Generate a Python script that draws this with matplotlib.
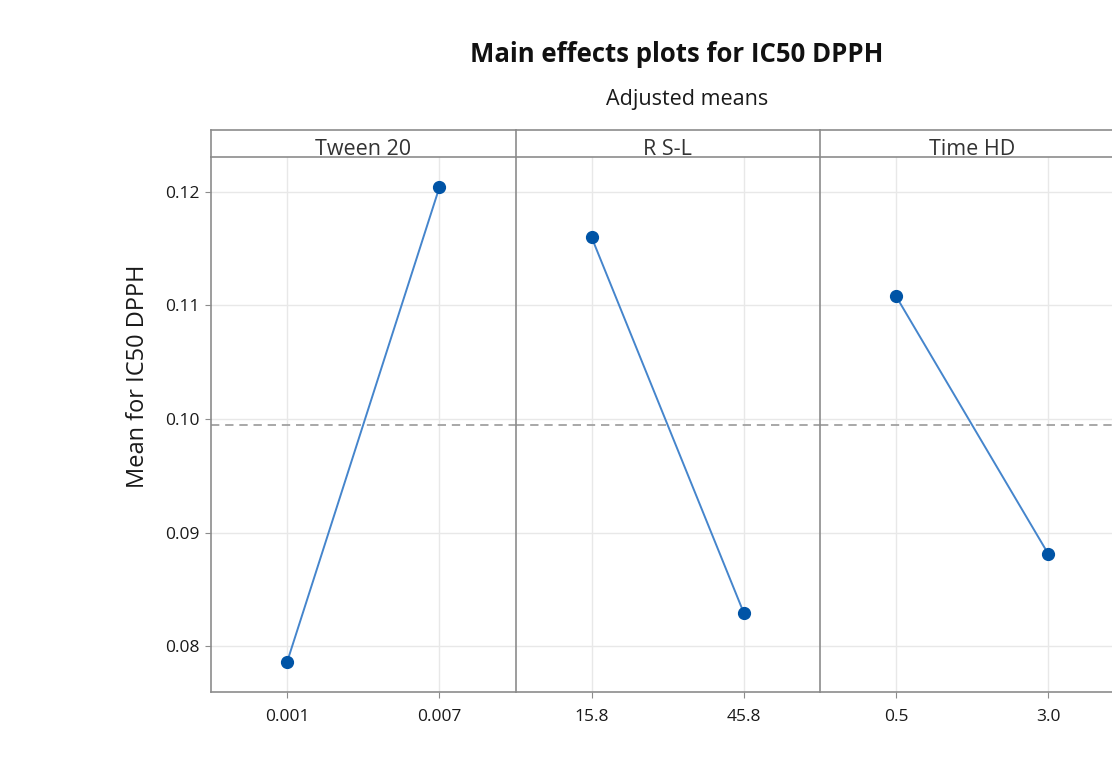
import matplotlib
matplotlib.use("Agg")
import matplotlib.pyplot as plt

plt.rcParams['font.family'] = ['Open Sans', 'DejaVu Sans']

factors = ["Tween 20", "R S-L", "Time HD"]
levels = [["0.001", "0.007"], ["15.8", "45.8"], ["0.5", "3.0"]]
means = [[0.0786, 0.1204], [0.1160, 0.0829], [0.1108, 0.0881]]
grand_mean = 0.0995
yticks = [0.08, 0.09, 0.10, 0.11, 0.12]
ytick_labels = ["0.08", "0.09", "0.10", "0.11", "0.12"]

W, H = 1112, 781
fig = plt.figure(figsize=(W / 100, H / 100), dpi=100)

frame = "#8c8c8c"
grid = "#e8e8e8"
line_c = "#4585cc"
mark_c = "#0054a6"

left_px, panel_w = 211, 304.5
top_px, strip_px, bottom_px = 130, 27, 692

for i, (name, lv, mv) in enumerate(zip(factors, levels, means)):
    x0 = left_px + i * panel_w
    ax = fig.add_axes([x0 / W, 1 - bottom_px / H, panel_w / W, (bottom_px - top_px - strip_px) / H])
    xs = list(range(len(lv)))
    ax.plot(xs, mv, color=line_c, lw=1.4, zorder=3)
    ax.plot(xs, mv, 'o', color=mark_c, ms=8.5, zorder=4)
    ax.axhline(grand_mean, color="#9a9a9a", lw=1.2, ls=(0, (5, 3.5)), zorder=2)
    ax.set_xlim(-0.5, 1.5)
    ax.set_ylim(0.07595, 0.12308)
    ax.set_xticks(xs)
    ax.set_xticklabels(lv, fontsize=12.5, color="#1a1a1a")
    ax.set_yticks(yticks)
    ax.grid(True, color=grid, lw=1.0, zorder=0)
    ax.set_axisbelow(True)
    for s in ["top", "right"]:
        ax.spines[s].set_visible(False)
    for s in ["left", "bottom"]:
        ax.spines[s].set_color(frame)
        ax.spines[s].set_linewidth(1.2)
    ax.tick_params(axis='x', length=4, color=frame, pad=8)
    if i == 0:
        ax.set_yticklabels(ytick_labels, fontsize=12.5, color="#1a1a1a")
        ax.tick_params(axis='y', length=4, color=frame, pad=4)
        ax.set_ylabel("Mean for IC50 DPPH", fontsize=17, color="#1a1a1a")
        ax.yaxis.set_label_coords(-61 / panel_w, (692 - 376) / (692 - 157))
    else:
        ax.tick_params(axis='y', length=0, labelleft=False)
    # strip
    sax = fig.add_axes([x0 / W, 1 - (top_px + strip_px) / H, panel_w / W, strip_px / H])
    sax.set_xticks([])
    sax.set_yticks([])
    for s in sax.spines.values():
        s.set_color(frame)
        s.set_linewidth(1.2)
    sax.spines["right"].set_visible(i == 2)
    sax.text(0.5, 0.28, name, ha='center', va='center', fontsize=15.5, color="#333333",
             transform=sax.transAxes)

fig.text(677 / W, 1 - 55 / H, "Main effects plots for IC50 DPPH", ha='center', va='center',
         fontsize=18.5, fontweight='bold', color="#111111")
fig.text(687 / W, 1 - 100 / H, "Adjusted means", ha='center', va='center',
         fontsize=15.5, color="#1a1a1a")

fig.savefig("out.png", dpi=100)
